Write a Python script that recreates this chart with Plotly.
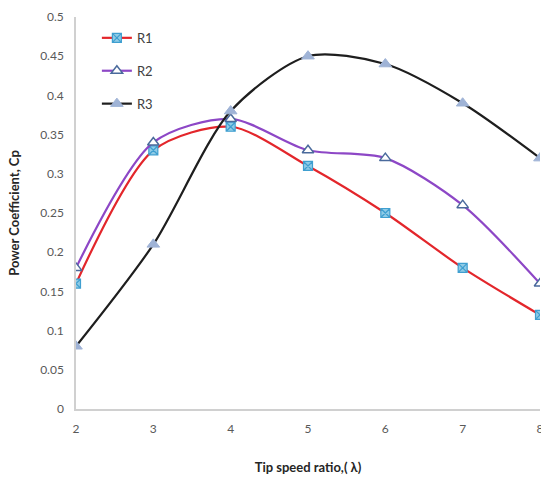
import plotly.graph_objects as go

tsr = [2, 3, 4, 5, 6, 7, 8]
r1 = [0.16, 0.33, 0.36, 0.31, 0.25, 0.18, 0.12]
r2 = [0.18, 0.34, 0.37, 0.33, 0.32, 0.26, 0.16]
r3 = [0.08, 0.21, 0.38, 0.45, 0.44, 0.39, 0.32]
y_ticks = [0, 0.05, 0.1, 0.15, 0.2, 0.25, 0.3, 0.35, 0.4, 0.45, 0.5]
y_labels = ["0", "0.05", "0.1", "0.15", "0.2", "0.25", "0.3", "0.35", "0.4", "0.45", "0.5"]

fig = go.Figure()
fig.add_trace(go.Scatter(
    x=tsr, y=r1, name="R1", mode="lines+markers", legendgroup="a",
    line=dict(color="#e3262b", width=2.2, shape="spline", smoothing=0.8),
    marker=dict(symbol="square-x", size=9, color="#8fcbe6",
                line=dict(color="#3f9fd0", width=1.2)),
))
fig.add_trace(go.Scatter(
    x=tsr, y=r2, name="R2", mode="lines+markers", legendgroup="b",
    line=dict(color="#8d47c6", width=2.2, shape="spline", smoothing=0.8),
    marker=dict(symbol="triangle-up", size=10, color="white",
                line=dict(color="#4a6a9c", width=1.5)),
))
fig.add_trace(go.Scatter(
    x=tsr, y=r3, name="R3", mode="lines+markers", legendgroup="c",
    line=dict(color="#1e1e1e", width=2.2, shape="spline", smoothing=0.8),
    marker=dict(symbol="triangle-up", size=11, color="#9fb3d6",
                line=dict(color="#9fb3d6", width=1)),
))

fig.update_layout(
    width=541, height=478,
    margin=dict(l=76, r=1, t=17, b=69),
    paper_bgcolor="white", plot_bgcolor="white",
    font=dict(family="Lato, Noto Sans, sans-serif", color="#595959", size=12),
    showlegend=True,
    legend=dict(x=0.045, y=0.985, xanchor="left", yanchor="top",
                bgcolor="rgba(0,0,0,0)", font=dict(size=13, color="#404040"),
                tracegroupgap=13, itemwidth=30, traceorder="grouped"),
    xaxis=dict(range=[2, 8], tickvals=tsr, showgrid=False, zeroline=False,
               showline=True, linecolor="#d0d0d0", linewidth=1.5, ticks="",
               ticklabelstandoff=8, ticklabeloverflow="allow", automargin=False,
               title=dict(text="<b>Tip speed ratio,( λ)</b>", font=dict(size=13, color="#262626"),
                          standoff=28)),
    yaxis=dict(range=[0, 0.5], tickvals=y_ticks, ticktext=y_labels, showgrid=False,
               zeroline=False, showline=True, linecolor="#d0d0d0", linewidth=1.5, ticks="",
               ticklabelstandoff=8,
               title=dict(text="<b>Power Coefficient, Cp</b>", font=dict(size=13, color="#262626"),
                          standoff=18)),
)

fig.write_html("out.html")
